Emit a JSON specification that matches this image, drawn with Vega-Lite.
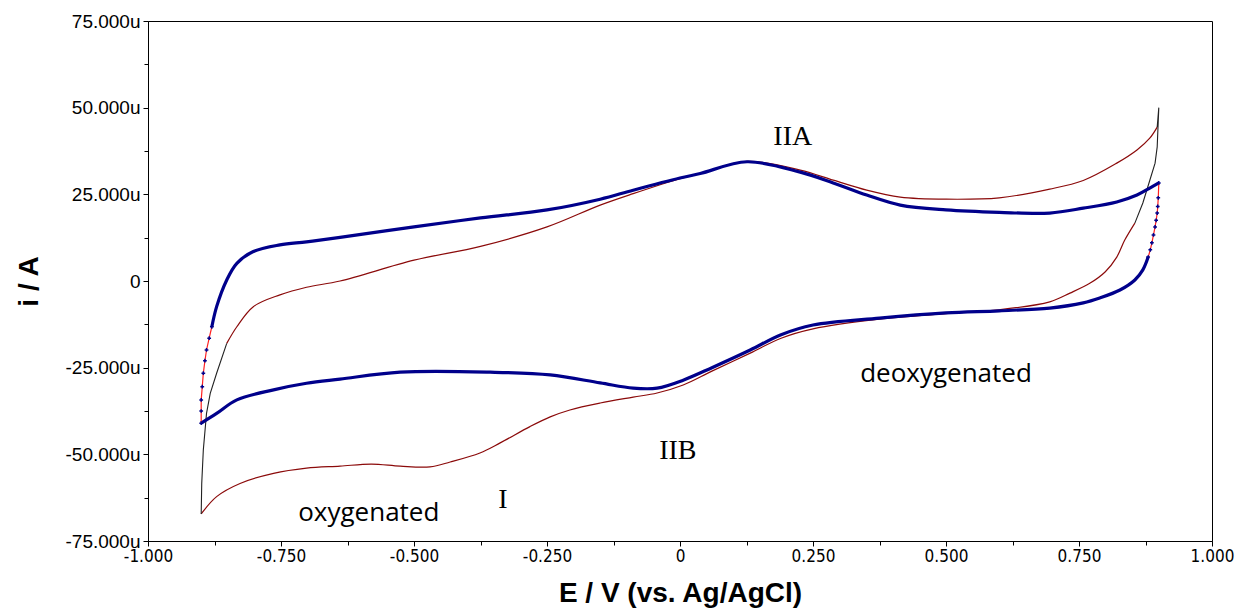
{
  "$schema": "https://vega.github.io/schema/vega-lite/v6.json",
  "width": 1064,
  "height": 520,
  "autosize": {"type": "none"},
  "padding": {"left": 148, "top": 21, "right": 29, "bottom": 67},
  "background": "white",
  "config": {
    "view": {"stroke": "black", "strokeWidth": 1},
    "font": "Liberation Sans",
    "axis": {"grid": false, "domainColor": "black", "tickColor": "black", "labelColor": "black", "titleColor": "black", "domainWidth": 1, "tickWidth": 1}
  },
  "datasets": {
    "cv": [
      {"segment": "o1", "k": 1, "E": -0.9, "I": -67.2},
      {"segment": "o1", "k": 2, "E": -0.899, "I": -58.4},
      {"segment": "o1", "k": 3, "E": -0.896, "I": -48.7},
      {"segment": "o1", "k": 4, "E": -0.89, "I": -38.2},
      {"segment": "o1", "k": 5, "E": -0.883, "I": -32.4},
      {"segment": "o1", "k": 6, "E": -0.871, "I": -26.6},
      {"segment": "o1", "k": 7, "E": -0.852, "I": -18.0},
      {"segment": "o2", "k": 1, "E": -0.852, "I": -18.0},
      {"segment": "o2", "k": 2, "E": -0.833, "I": -13.2},
      {"segment": "o2", "k": 3, "E": -0.802, "I": -7.4},
      {"segment": "o2", "k": 4, "E": -0.752, "I": -4.0},
      {"segment": "o2", "k": 5, "E": -0.702, "I": -1.8},
      {"segment": "o2", "k": 6, "E": -0.639, "I": 0.0},
      {"segment": "o2", "k": 7, "E": -0.5, "I": 6.0},
      {"segment": "o2", "k": 8, "E": -0.375, "I": 10.0},
      {"segment": "o2", "k": 9, "E": -0.25, "I": 15.6},
      {"segment": "o2", "k": 10, "E": -0.15, "I": 21.9},
      {"segment": "o2", "k": 11, "E": -0.088, "I": 25.2},
      {"segment": "o2", "k": 12, "E": 0.0, "I": 29.5},
      {"segment": "o2", "k": 13, "E": 0.038, "I": 31.0},
      {"segment": "o2", "k": 14, "E": 0.126, "I": 34.5},
      {"segment": "o2", "k": 15, "E": 0.226, "I": 32.0},
      {"segment": "o2", "k": 16, "E": 0.288, "I": 29.1},
      {"segment": "o2", "k": 17, "E": 0.351, "I": 26.2},
      {"segment": "o2", "k": 18, "E": 0.414, "I": 24.2},
      {"segment": "o2", "k": 19, "E": 0.5, "I": 23.6},
      {"segment": "o2", "k": 20, "E": 0.6, "I": 24.0},
      {"segment": "o2", "k": 21, "E": 0.695, "I": 26.5},
      {"segment": "o2", "k": 22, "E": 0.758, "I": 29.0},
      {"segment": "o2", "k": 23, "E": 0.821, "I": 34.0},
      {"segment": "o2", "k": 24, "E": 0.859, "I": 37.8},
      {"segment": "o2", "k": 25, "E": 0.883, "I": 41.2},
      {"segment": "o2", "k": 26, "E": 0.897, "I": 44.4},
      {"segment": "o3", "k": 1, "E": 0.897, "I": 44.4},
      {"segment": "o3", "k": 2, "E": 0.9, "I": 50.0},
      {"segment": "o3", "k": 3, "E": 0.897, "I": 38.7},
      {"segment": "o3", "k": 4, "E": 0.893, "I": 34.0},
      {"segment": "o3", "k": 5, "E": 0.883, "I": 29.0},
      {"segment": "o3", "k": 6, "E": 0.87, "I": 22.5},
      {"segment": "o3", "k": 7, "E": 0.855, "I": 16.7},
      {"segment": "o4", "k": 1, "E": 0.855, "I": 16.7},
      {"segment": "o4", "k": 2, "E": 0.836, "I": 11.8},
      {"segment": "o4", "k": 3, "E": 0.821, "I": 6.9},
      {"segment": "o4", "k": 4, "E": 0.799, "I": 2.6},
      {"segment": "o4", "k": 5, "E": 0.771, "I": -0.6},
      {"segment": "o4", "k": 6, "E": 0.733, "I": -3.5},
      {"segment": "o4", "k": 7, "E": 0.695, "I": -6.0},
      {"segment": "o4", "k": 8, "E": 0.6, "I": -8.3},
      {"segment": "o4", "k": 9, "E": 0.5, "I": -9.4},
      {"segment": "o4", "k": 10, "E": 0.375, "I": -11.0},
      {"segment": "o4", "k": 11, "E": 0.25, "I": -13.8},
      {"segment": "o4", "k": 12, "E": 0.19, "I": -16.5},
      {"segment": "o4", "k": 13, "E": 0.132, "I": -20.8},
      {"segment": "o4", "k": 14, "E": 0.06, "I": -26.0},
      {"segment": "o4", "k": 15, "E": 0.006, "I": -30.0},
      {"segment": "o4", "k": 16, "E": -0.043, "I": -32.3},
      {"segment": "o4", "k": 17, "E": -0.088, "I": -33.5},
      {"segment": "o4", "k": 18, "E": -0.15, "I": -35.2},
      {"segment": "o4", "k": 19, "E": -0.207, "I": -37.2},
      {"segment": "o4", "k": 20, "E": -0.244, "I": -39.2},
      {"segment": "o4", "k": 21, "E": -0.282, "I": -42.0},
      {"segment": "o4", "k": 22, "E": -0.338, "I": -46.7},
      {"segment": "o4", "k": 23, "E": -0.376, "I": -49.6},
      {"segment": "o4", "k": 24, "E": -0.432, "I": -52.2},
      {"segment": "o4", "k": 25, "E": -0.47, "I": -53.6},
      {"segment": "o4", "k": 26, "E": -0.526, "I": -53.4},
      {"segment": "o4", "k": 27, "E": -0.58, "I": -52.8},
      {"segment": "o4", "k": 28, "E": -0.639, "I": -53.4},
      {"segment": "o4", "k": 29, "E": -0.702, "I": -54.0},
      {"segment": "o4", "k": 30, "E": -0.764, "I": -55.5},
      {"segment": "o4", "k": 31, "E": -0.827, "I": -58.4},
      {"segment": "o4", "k": 32, "E": -0.871, "I": -62.2},
      {"segment": "o4", "k": 33, "E": -0.9, "I": -67.2},
      {"segment": "d1", "k": 1, "E": -0.9, "I": -41.0},
      {"segment": "d1", "k": 2, "E": -0.9, "I": -37.5},
      {"segment": "d1", "k": 3, "E": -0.9, "I": -34.3},
      {"segment": "d1", "k": 4, "E": -0.898, "I": -30.5},
      {"segment": "d1", "k": 5, "E": -0.896, "I": -26.6},
      {"segment": "d1", "k": 6, "E": -0.893, "I": -23.0},
      {"segment": "d1", "k": 7, "E": -0.89, "I": -19.9},
      {"segment": "d1", "k": 8, "E": -0.885, "I": -16.5},
      {"segment": "d1", "k": 9, "E": -0.88, "I": -13.2},
      {"segment": "d2", "k": 1, "E": -0.88, "I": -13.2},
      {"segment": "d2", "k": 2, "E": -0.871, "I": -7.4},
      {"segment": "d2", "k": 3, "E": -0.852, "I": 0.3},
      {"segment": "d2", "k": 4, "E": -0.833, "I": 5.1},
      {"segment": "d2", "k": 5, "E": -0.802, "I": 8.5},
      {"segment": "d2", "k": 6, "E": -0.752, "I": 10.4},
      {"segment": "d2", "k": 7, "E": -0.702, "I": 11.3},
      {"segment": "d2", "k": 8, "E": -0.639, "I": 12.6},
      {"segment": "d2", "k": 9, "E": -0.5, "I": 15.6},
      {"segment": "d2", "k": 10, "E": -0.375, "I": 18.2},
      {"segment": "d2", "k": 11, "E": -0.25, "I": 20.5},
      {"segment": "d2", "k": 12, "E": -0.15, "I": 23.6},
      {"segment": "d2", "k": 13, "E": -0.088, "I": 26.2},
      {"segment": "d2", "k": 14, "E": 0.0, "I": 29.7},
      {"segment": "d2", "k": 15, "E": 0.038, "I": 31.0},
      {"segment": "d2", "k": 16, "E": 0.126, "I": 34.4},
      {"segment": "d2", "k": 17, "E": 0.226, "I": 31.4},
      {"segment": "d2", "k": 18, "E": 0.288, "I": 28.3},
      {"segment": "d2", "k": 19, "E": 0.351, "I": 24.8},
      {"segment": "d2", "k": 20, "E": 0.414, "I": 21.9},
      {"segment": "d2", "k": 21, "E": 0.5, "I": 20.5},
      {"segment": "d2", "k": 22, "E": 0.6, "I": 19.8},
      {"segment": "d2", "k": 23, "E": 0.695, "I": 19.6},
      {"segment": "d2", "k": 24, "E": 0.758, "I": 21.0},
      {"segment": "d2", "k": 25, "E": 0.821, "I": 22.8},
      {"segment": "d2", "k": 26, "E": 0.859, "I": 24.8},
      {"segment": "d2", "k": 27, "E": 0.883, "I": 26.8},
      {"segment": "d2", "k": 28, "E": 0.9, "I": 28.3},
      {"segment": "d3", "k": 1, "E": 0.9, "I": 28.3},
      {"segment": "d3", "k": 2, "E": 0.899, "I": 24.0},
      {"segment": "d3", "k": 3, "E": 0.898, "I": 21.5},
      {"segment": "d3", "k": 4, "E": 0.897, "I": 19.6},
      {"segment": "d3", "k": 5, "E": 0.895, "I": 17.5},
      {"segment": "d3", "k": 6, "E": 0.893, "I": 15.6},
      {"segment": "d3", "k": 7, "E": 0.89, "I": 13.3},
      {"segment": "d3", "k": 8, "E": 0.887, "I": 11.0},
      {"segment": "d3", "k": 9, "E": 0.884, "I": 9.0},
      {"segment": "d3", "k": 10, "E": 0.88, "I": 6.9},
      {"segment": "d4", "k": 1, "E": 0.88, "I": 6.9},
      {"segment": "d4", "k": 2, "E": 0.87, "I": 3.2},
      {"segment": "d4", "k": 3, "E": 0.855, "I": 0.3},
      {"segment": "d4", "k": 4, "E": 0.827, "I": -2.6},
      {"segment": "d4", "k": 5, "E": 0.789, "I": -4.9},
      {"segment": "d4", "k": 6, "E": 0.758, "I": -6.3},
      {"segment": "d4", "k": 7, "E": 0.695, "I": -7.8},
      {"segment": "d4", "k": 8, "E": 0.6, "I": -8.6},
      {"segment": "d4", "k": 9, "E": 0.5, "I": -9.2},
      {"segment": "d4", "k": 10, "E": 0.375, "I": -10.7},
      {"segment": "d4", "k": 11, "E": 0.25, "I": -12.7},
      {"segment": "d4", "k": 12, "E": 0.19, "I": -15.5},
      {"segment": "d4", "k": 13, "E": 0.132, "I": -19.9},
      {"segment": "d4", "k": 14, "E": 0.06, "I": -25.0},
      {"segment": "d4", "k": 15, "E": 0.006, "I": -28.6},
      {"segment": "d4", "k": 16, "E": -0.043, "I": -30.9},
      {"segment": "d4", "k": 17, "E": -0.088, "I": -30.9},
      {"segment": "d4", "k": 18, "E": -0.15, "I": -29.4},
      {"segment": "d4", "k": 19, "E": -0.244, "I": -27.1},
      {"segment": "d4", "k": 20, "E": -0.357, "I": -26.3},
      {"segment": "d4", "k": 21, "E": -0.526, "I": -26.3},
      {"segment": "d4", "k": 22, "E": -0.639, "I": -28.3},
      {"segment": "d4", "k": 23, "E": -0.702, "I": -29.5},
      {"segment": "d4", "k": 24, "E": -0.764, "I": -31.4},
      {"segment": "d4", "k": 25, "E": -0.833, "I": -34.3},
      {"segment": "d4", "k": 26, "E": -0.871, "I": -38.2},
      {"segment": "d4", "k": 27, "E": -0.9, "I": -41.0}
    ],
    "roman": [
      {"label": "IIA", "E": 0.212, "I": 41.5},
      {"label": "IIB", "E": -0.004, "I": -49.0},
      {"label": "I", "E": -0.333, "I": -63.2}
    ],
    "words": [
      {"label": "oxygenated", "E": -0.585, "I": -67.0},
      {"label": "deoxygenated", "E": 0.5, "I": -26.8}
    ]
  },
  "layer": [
    {
      "data": {"name": "cv"},
      "transform": [{"filter": {"field": "segment", "oneOf": ["o2", "o4"]}}],
      "mark": {"type": "line", "color": "#8B0A0A", "strokeWidth": 1.2, "interpolate": "catmull-rom"},
      "encoding": {
        "x": {"field": "E", "type": "quantitative", "scale": {"domain": [-1, 1], "nice": false, "zero": false},
          "axis": {
            "values": [-1, -0.875, -0.75, -0.625, -0.5, -0.375, -0.25, -0.125, 0, 0.125, 0.25, 0.375, 0.5, 0.625, 0.75, 0.875, 1],
            "labelExpr": "abs(datum.value*4 - round(datum.value*4)) > 0.01 ? '' : (datum.value == 0 ? '0' : (datum.value < 0 ? '-' : '') + format(abs(datum.value), '.3f'))",
            "tickSize": {"condition": {"test": "abs(datum.value*4 - round(datum.value*4)) > 0.01", "value": 4}, "value": 5},
            "labelFont": "'DejaVu Sans Condensed', 'Liberation Sans', sans-serif", "labelFontSize": 17, "labelPadding": 2, "labelFlush": false,
            "title": "E / V (vs. Ag/AgCl)", "titleFont": "Liberation Sans", "titleFontWeight": "bold", "titleFontSize": 28,
            "titleX": 532, "titleY": 60, "titleBaseline": "alphabetic", "titleAlign": "center", "titleAnchor": null
          }},
        "y": {"field": "I", "type": "quantitative", "scale": {"domain": [-75, 75], "nice": false, "zero": false},
          "axis": {
            "values": [-75, -62.5, -50, -37.5, -25, -12.5, 0, 12.5, 25, 37.5, 50, 62.5, 75],
            "labelExpr": "abs(datum.value % 25) > 1 ? '' : (datum.value == 0 ? '0' : (datum.value < 0 ? '-' : '') + format(abs(datum.value), '.3f') + 'u')",
            "tickSize": {"condition": {"test": "abs(datum.value % 25) > 1", "value": 4}, "value": 5},
            "labelFont": "Liberation Sans", "labelFontSize": 19, "labelPadding": 3, "labelFlush": false,
            "title": "i / A", "titleFont": "Liberation Sans", "titleFontWeight": "bold", "titleFontSize": 28,
            "titleX": -119, "titleY": 260, "titleBaseline": "middle", "titleAlign": "center", "titleAngle": -90, "titleAnchor": null
          }},
        "detail": {"field": "segment"},
        "order": {"field": "k", "type": "quantitative"}
      }
    },
    {
      "data": {"name": "cv"},
      "transform": [{"filter": {"field": "segment", "oneOf": ["o1", "o3"]}}],
      "mark": {"type": "line", "color": "#222222", "strokeWidth": 1.1, "interpolate": "linear"},
      "encoding": {
        "x": {"field": "E", "type": "quantitative"},
        "y": {"field": "I", "type": "quantitative"},
        "detail": {"field": "segment"},
        "order": {"field": "k", "type": "quantitative"}
      }
    },
    {
      "data": {"name": "cv"},
      "transform": [{"filter": {"field": "segment", "oneOf": ["d2", "d4"]}}],
      "mark": {"type": "line", "color": "#00008B", "strokeWidth": 3.2, "interpolate": "catmull-rom"},
      "encoding": {
        "x": {"field": "E", "type": "quantitative"},
        "y": {"field": "I", "type": "quantitative"},
        "detail": {"field": "segment"},
        "order": {"field": "k", "type": "quantitative"}
      }
    },
    {
      "data": {"name": "cv"},
      "transform": [{"filter": {"field": "segment", "oneOf": ["d1", "d3"]}}],
      "mark": {"type": "line", "color": "#FF2020", "strokeWidth": 1.2, "interpolate": "linear"},
      "encoding": {
        "x": {"field": "E", "type": "quantitative"},
        "y": {"field": "I", "type": "quantitative"},
        "detail": {"field": "segment"},
        "order": {"field": "k", "type": "quantitative"}
      }
    },
    {
      "data": {"name": "cv"},
      "transform": [{"filter": {"field": "segment", "oneOf": ["d1", "d3"]}}],
      "mark": {"type": "point", "shape": "cross", "filled": true, "color": "#00008B", "size": 14, "opacity": 1},
      "encoding": {
        "x": {"field": "E", "type": "quantitative"},
        "y": {"field": "I", "type": "quantitative"}
      }
    },
    {
      "data": {"name": "roman"},
      "mark": {"type": "text", "font": "Liberation Serif", "fontSize": 28, "color": "black", "align": "center", "baseline": "middle"},
      "encoding": {
        "x": {"field": "E", "type": "quantitative"},
        "y": {"field": "I", "type": "quantitative"},
        "text": {"field": "label"}
      }
    },
    {
      "data": {"name": "words"},
      "mark": {"type": "text", "font": "Open Sans", "fontSize": 26, "color": "black", "align": "center", "baseline": "middle"},
      "encoding": {
        "x": {"field": "E", "type": "quantitative"},
        "y": {"field": "I", "type": "quantitative"},
        "text": {"field": "label"}
      }
    }
  ]
}
